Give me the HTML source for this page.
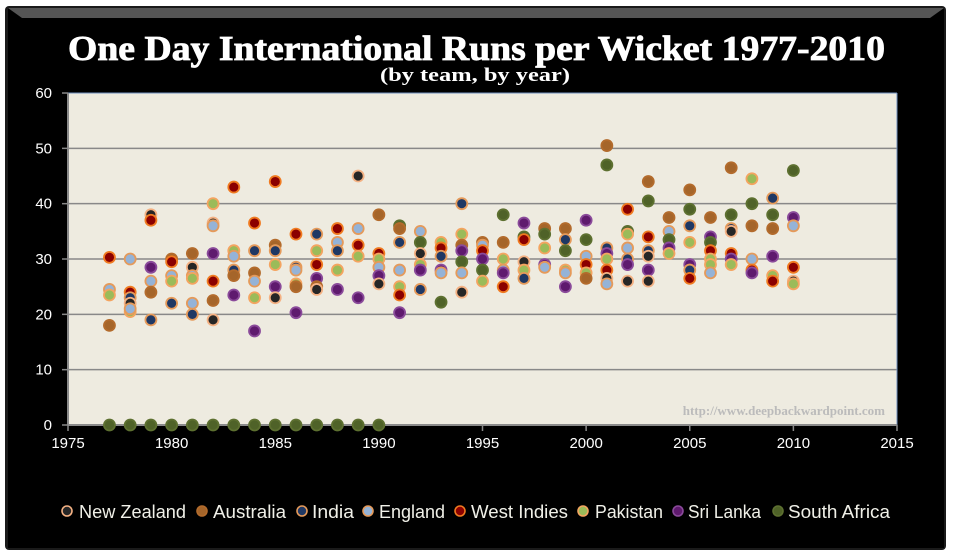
<!DOCTYPE html>
<html><head><meta charset="utf-8"><style>
html,body{margin:0;padding:0;background:#fff;}
svg{display:block;}
</style></head><body>
<svg id="s" width="954" height="556" xmlns="http://www.w3.org/2000/svg" font-family="Liberation Sans, sans-serif">
<rect x="0" y="0" width="954" height="556" fill="#fff"/>
<rect x="5" y="6" width="941" height="544" rx="4" fill="#1a1a1a"/>
<rect x="8" y="8" width="936" height="540" fill="#000"/>
<polygon points="8,8 944,8 930,18 22,18" fill="#555"/>
<text x="68" y="60" textLength="817" lengthAdjust="spacingAndGlyphs" font-family="Liberation Serif, serif" font-weight="bold" font-size="35" fill="#fff" stroke="#fff" stroke-width="0.8">One Day International Runs per Wicket 1977-2010</text>
<text x="380" y="81" textLength="190" lengthAdjust="spacingAndGlyphs" font-family="Liberation Serif, serif" font-weight="bold" font-size="19" fill="#fff">(by team, by year)</text>
<rect x="68" y="93" width="829" height="332" fill="#eeebe0"/>
<g id="grid" stroke="#888" stroke-width="1.5"></g>
<line x1="68" y1="93" x2="897" y2="93" stroke="#6f8fbf" stroke-width="1"/>
<line x1="897" y1="93" x2="897" y2="425" stroke="#6f8fbf" stroke-width="1"/>
<line x1="68" y1="93" x2="68" y2="425" stroke="#8a8a8a" stroke-width="2"/>
<line x1="68" y1="425" x2="897" y2="425" stroke="#8a8a8a" stroke-width="2"/>
<g id="labels" fill="#fff" font-size="15"></g>
<text x="885" y="415" text-anchor="end" font-family="Liberation Serif, serif" font-weight="bold" font-size="13" fill="#bbb">http://www.deepbackwardpoint.com</text>
<g id="pts"></g>
<g id="leg" font-size="18" fill="#f0f0e8"></g>
</svg>
<script>
var NS="http://www.w3.org/2000/svg";
function el(t,a,p,txt){var e=document.createElementNS(NS,t);for(var k in a)e.setAttribute(k,a[k]);if(txt!=null)e.textContent=txt;document.getElementById(p).appendChild(e);return e;}
function X(y){return 68+(y-1975)*20.725;}
function Y(v){return 425-v*5.533;}
for(var v=10;v<=50;v+=10){el("line",{x1:68,x2:897,y1:Y(v),y2:Y(v)},"grid");}
for(var v=0;v<=60;v+=10){el("text",{x:52,y:Y(v)+5,"text-anchor":"end"},"labels",""+v);el("line",{x1:62,x2:68,y1:Y(v),y2:Y(v),stroke:"#888"},"grid");}
for(var y=1975;y<=2015;y+=5){el("text",{x:X(y),y:448,"text-anchor":"middle"},"labels",""+y);el("line",{x1:X(y),x2:X(y),y1:425,y2:431,stroke:"#888"},"grid");}
var T=[["New Zealand","#262626","#f4b183"],["Australia","#a5652a","#b36b2c"],["India","#1f3864","#e59a5a"],["England","#95b3d7","#e59a5a"],["West Indies","#8b0000","#f07a20"],["Pakistan","#9bbb59","#f4a460"],["Sri Lanka","#5f1a6e","#8a4a9a"],["South Africa","#4f6228","#5d7030"]];
var D={
1977:[[30.3,4],[18,1],[24.5,3],[23.5,5]],
1978:[[30,3],[24,4],[23,2],[22,0],[20.5,5],[21,3]],
1979:[[38,0],[37,4],[28.5,6],[26,3],[24,1],[19,2]],
1980:[[30,1],[29.5,4],[27,3],[26,5],[22,2]],
1981:[[31,1],[28.5,0],[27,3],[26.5,5],[22,3],[20,2]],
1982:[[40,5],[36.5,0],[36,3],[31,6],[26,4],[22.5,1],[19,0]],
1983:[[43,4],[31.5,5],[30.5,3],[28,2],[27,1],[23.5,6]],
1984:[[36.5,4],[31.5,2],[27.5,1],[26,3],[23,5],[17,6]],
1985:[[44,4],[32.5,1],[31.5,2],[29,5],[25,6],[23,0]],
1986:[[34.5,4],[28.5,2],[28,3],[25.5,5],[25,1],[20.3,6]],
1987:[[34.5,2],[31.5,5],[29,4],[26.5,6],[25,1],[24.5,0]],
1988:[[35.5,4],[33,3],[31.5,2],[28,5],[24.5,6]],
1989:[[45,0],[35.5,3],[32.5,4],[30.5,5],[23,6]],
1990:[[38,1],[31,4],[30,5],[28.5,3],[27,6],[25.5,0]],
1991:[[36,7],[35.5,1],[33,2],[28,3],[25,5],[23.5,4],[20.3,6]],
1992:[[35,3],[33,7],[31,0],[29,5],[28,6],[24.5,2]],
1993:[[33,5],[32,4],[30.5,2],[28,6],[27.5,3],[22.2,7]],
1994:[[40,2],[34.5,5],[32.5,1],[31.5,6],[29.5,7],[27.5,3],[24,0]],
1995:[[33,1],[32.5,3],[31.5,4],[30,6],[28,7],[26,5]],
1996:[[38,7],[33,1],[30,5],[28,3],[27.5,6],[25,4]],
1997:[[36.5,6],[34,7],[33.5,4],[29.5,0],[28,5],[26.5,2]],
1998:[[35.5,1],[34.5,7],[32,5],[29,6],[28.5,3]],
1999:[[35.5,1],[33.5,2],[31.5,7],[28,5],[27.5,3],[25,6]],
2000:[[37,6],[33.5,7],[30.5,3],[29,4],[27.5,5],[26.5,1]],
2001:[[50.5,1],[47,7],[32,2],[31,6],[30,5],[28,4],[26.5,0],[25.5,3]],
2002:[[39,4],[35,7],[34.5,5],[32,3],[30,2],[29,6],[26,0]],
2003:[[44,1],[40.5,7],[34,4],[31.5,2],[30.5,0],[28,6],[26,0]],
2004:[[37.5,1],[35,3],[33.5,7],[32,6],[31,5]],
2005:[[42.5,1],[39,7],[36,2],[33,5],[29,6],[28,2],[26.5,4]],
2006:[[37.5,1],[34,6],[33,7],[31.5,4],[30,5],[29,5],[27.5,3]],
2007:[[46.5,1],[38,7],[35.5,2],[35,0],[31,4],[30,6],[29,5]],
2008:[[44.5,5],[40,7],[36,1],[30,3],[28,4],[27.5,6]],
2009:[[41,2],[38,7],[35.5,1],[30.5,6],[27,5],[26,4]],
2010:[[46,7],[37.5,6],[36,3],[28.5,4],[26,0],[25.5,5]]};
for(var y=1977;y<=1990;y++){D[y].push([0,7]);}
for(var y in D){D[y].forEach(function(p){var t=T[p[1]];el("circle",{cx:X(+y),cy:Y(p[0]),r:5.5,fill:t[1],stroke:t[2],"stroke-width":1.8},"pts");});}
var lx=[67,202,302,368,460,583,678,778];
var tx=[79,213,312,379,471,595,688,788];
var tw=[107,73,42,66,97,68,73,102];
T.forEach(function(t,i){el("circle",{cx:lx[i],cy:511,r:5,fill:t[1],stroke:t[2],"stroke-width":1.6},"leg");el("text",{x:tx[i],y:518,textLength:tw[i],lengthAdjust:"spacingAndGlyphs"},"leg",t[0]);});
</script>
</body></html>
